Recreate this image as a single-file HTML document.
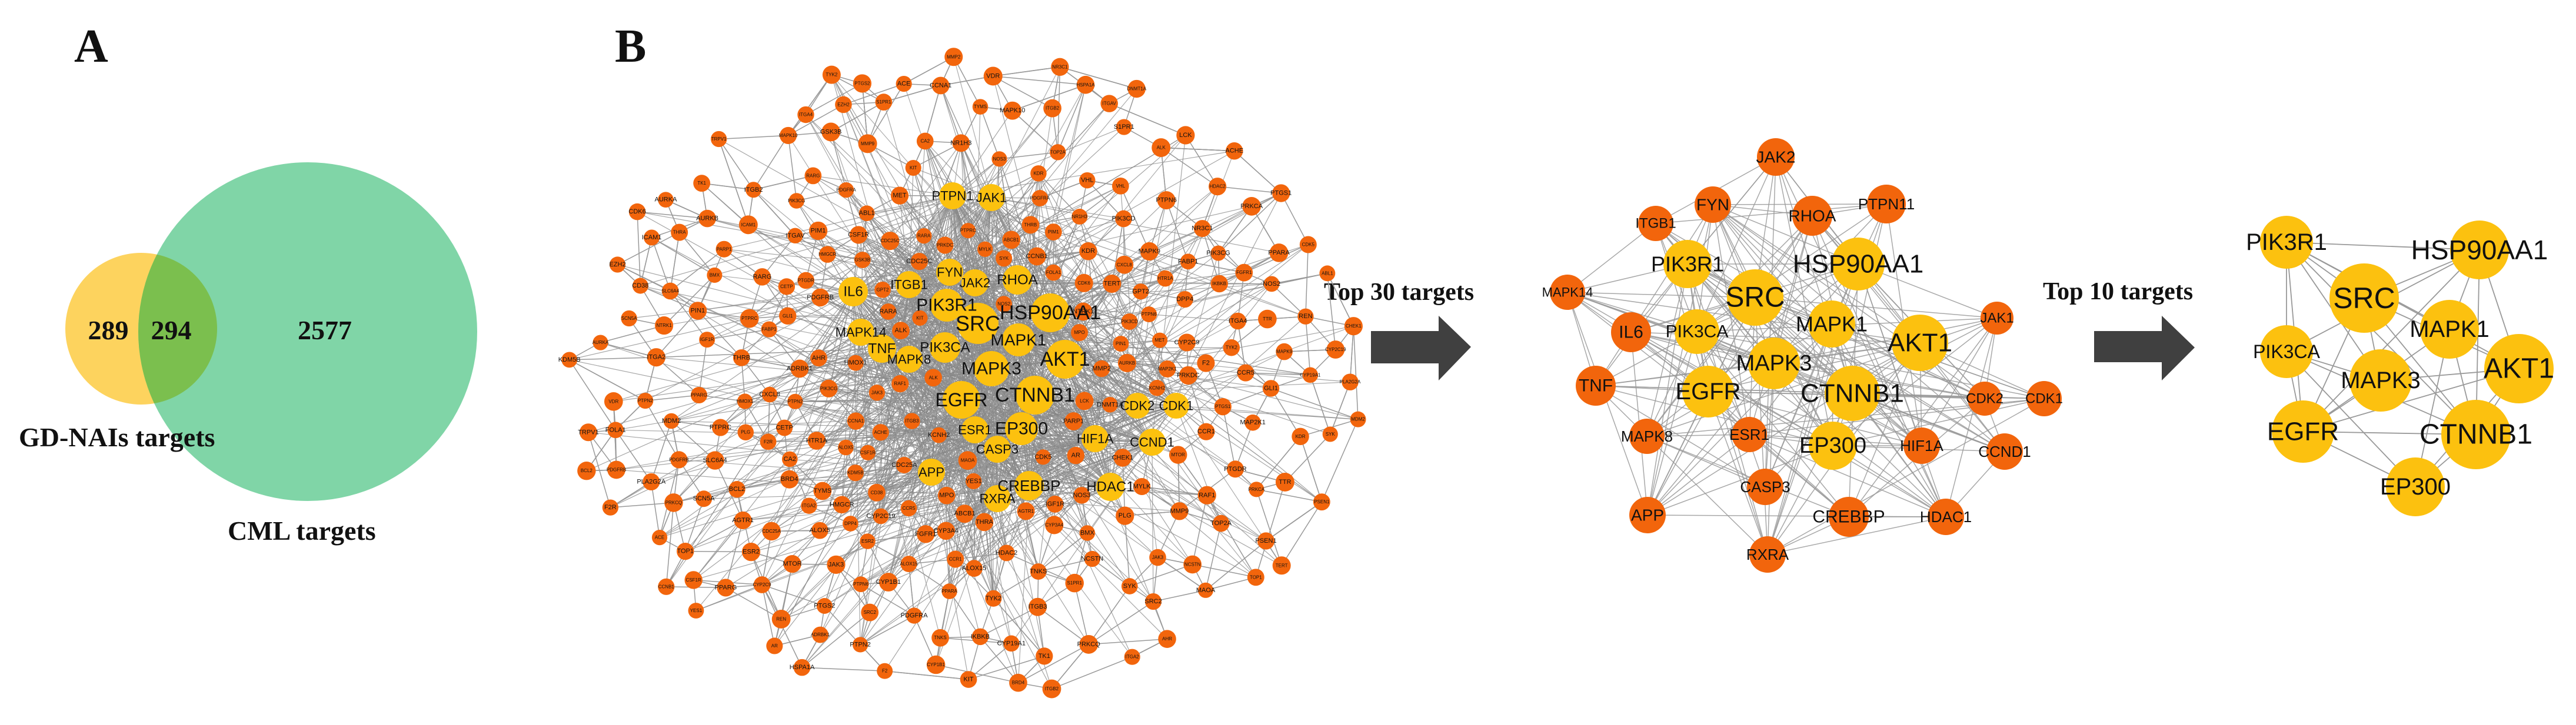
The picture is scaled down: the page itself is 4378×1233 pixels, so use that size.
<!DOCTYPE html>
<html><head><meta charset="utf-8"><style>
html,body{margin:0;padding:0;background:#fff;}
svg{display:block;}
.s{font-family:"Liberation Serif",serif;font-weight:bold;fill:#111;}
.a{font-family:"Liberation Sans",sans-serif;fill:#111;text-anchor:middle;dominant-baseline:central;}
</style></head><body>
<svg id="svg" width="4378" height="1233" viewBox="0 0 4378 1233" xmlns="http://www.w3.org/2000/svg">
<defs><clipPath id="cy"><circle cx="240" cy="559" r="129"/></clipPath></defs>
<rect width="4378" height="1233" fill="#fff"/>
<text class="s" x="126" y="105" font-size="80">A</text>
<circle cx="240" cy="559" r="129" fill="#fdd35e"/>
<circle cx="523" cy="564" r="288" fill="#80d5a7"/>
<circle cx="523" cy="564" r="288" fill="#7bbf4e" clip-path="url(#cy)"/>
<text class="s" x="184" y="577" font-size="46" text-anchor="middle">289</text>
<text class="s" x="291" y="577" font-size="46" text-anchor="middle">294</text>
<text class="s" x="552" y="577" font-size="46" text-anchor="middle">2577</text>
<text class="s" x="32" y="759" font-size="46">GD-NAIs  targets</text>
<text class="s" x="387" y="918" font-size="46">CML  targets</text>
<text class="s" x="1045" y="105" font-size="80">B</text>
<text class="s" x="2250" y="510" font-size="42">Top 30 targets</text>
<polygon points="2330,563 2445,563 2445,537 2500,590 2445,647 2445,618 2330,618" fill="#404040"/>
<text class="s" x="3472" y="509" font-size="42">Top 10 targets</text>
<polygon points="3559,563 3674,563 3674,537 3730,591 3674,647 3674,616 3559,616" fill="#404040"/>
<g id="edges"></g>
<g id="nodes"></g>
<g id="labels"></g>
</svg>
<script>
(function(){
var NS="http://www.w3.org/2000/svg";
var E=document.getElementById('edges'),N=document.getElementById('nodes'),L=document.getElementById('labels');
var seed=12345;function rnd(){seed=(seed*1103515245+12345)%2147483648;return seed/2147483648;}
function line(a,b,w,c,o){var l=document.createElementNS(NS,'line');l.setAttribute('x1',a[0]);l.setAttribute('y1',a[1]);l.setAttribute('x2',b[0]);l.setAttribute('y2',b[1]);l.setAttribute('stroke',c||'#999');l.setAttribute('stroke-width',w||1.5);if(o)l.setAttribute('stroke-opacity',o);E.appendChild(l);}
function circ(x,y,r,f){var c=document.createElementNS(NS,'circle');c.setAttribute('cx',x);c.setAttribute('cy',y);c.setAttribute('r',r);c.setAttribute('fill',f);N.appendChild(c);}
function txt(x,y,s,fs){var t=document.createElementNS(NS,'text');t.setAttribute('x',x);t.setAttribute('y',y);t.setAttribute('class','a');t.setAttribute('font-size',fs);t.textContent=s;L.appendChild(t);}
var OR='#f2650c',YE='#fcc10f';
var core=[["PTPN1",1619,333,23,22],["JAK1",1685,336,23,22],["FYN",1614,463,23,22],["JAK2",1657,481,23,22],["RHOA",1729,476,25,24],["ITGB1",1545,484,23,22],["IL6",1450,496,25,24],["PIK3R1",1609,519,28,30],["SRC",1662,550,35,36],["HSP90AA1",1785,532,33,34],["MAPK14",1463,565,23,22],["TNF",1499,593,24,24],["PIK3CA",1606,591,26,24],["MAPK1",1731,578,28,28],["MAPK8",1545,611,23,22],["AKT1",1810,611,33,34],["MAPK3",1685,627,30,30],["CTNNB1",1759,672,33,34],["EGFR",1634,680,32,32],["CDK2",1933,690,22,22],["CDK1",1999,690,22,22],["ESR1",1657,731,23,22],["EP300",1736,729,28,30],["HIF1A",1861,746,23,22],["CCND1",1958,752,23,22],["CASP3",1695,764,23,22],["APP",1583,803,23,22],["CREBBP",1749,826,25,26],["HDAC1",1887,828,24,24],["RXRA",1695,848,23,22]];
var names=["KDR","SYK","JAK3","PTPRC","ITGB2","ITGA2","CSF1R","PTPN2","ALK","PDGFRB","KIT","PTPN6","PDGFRA","PIK3CG","TYK2","S1PR1","PIK3CD","ITGAV","MET","F2","IGF1R","YES1","ADRBK1","IKBKB","NTRK1","RAF1","MTOR","MAP2K1","CDK6","PRKCA","ITGB3","CXCL8","NOS3","MMP2","PRKCQ","MDM2","BCL2","CDC25C","TERT","ABL1","GSK3B","MMP9","THRB","NOS2","MAPK9","THRA","CHEK1","CCNB1","RARA","HSPA1A","PPARA","CDK5","MAPK10","TOP2A","AURKA","NR3C1","PTGS2","PPARG","RARG","EZH2","PRKDC","PARP1","AR","HDAC2","ACE","REN","MPO","PLG","CCR5","CCR1","DPP4","AGTR1","ITGA4","ICAM1","F2R","ESR2","CD38","VDR","PSEN1","HMOX1","AHR","CYP1B1","CYP19A1","PTGS1","CYP2C19","CYP3A4","ALOX5","ALOX15","CYP2C9","HTR1A","SLC6A4","MAOA","ACHE","PLA2G2A","TTR","CA2","ABCB1","NCSTN","HMGCR","NR1H3","CETP","FABP1","GPT2","KDM5B","PIN1","DNMT1A","AURKB","PIM1","TK1","TYMS","FOLA1","SCN5A","KCNH2","TRPV1","MYLK","BMX","GLI1","SRC2","CDC25A","CCNA1","VHL","TOP1","PTGDR","FGFR1","TNKS","LCK","BRD4"];
var pts=[];
var cx=1640,cy=640,rx=675,ry=545;
var tries=0;
while(pts.length<270&&tries<200000){tries++;var x=cx+(rnd()*2-1)*rx,y=cy+(rnd()*2-1)*ry;var d=((x-cx)/rx)*((x-cx)/rx)+((y-cy)/ry)*((y-cy)/ry);if(d>1)continue;
 if(d>0.6&&rnd()<0.45)continue;
 var md=d<0.35?34:46;
 var ok=true;for(var i=0;i<pts.length;i++){var dx=pts[i][0]-x,dy=pts[i][1]-y;if(dx*dx+dy*dy<md*md){ok=false;break;}}
 if(!ok)continue;
 var cok=true;for(var j=0;j<core.length;j++){var dx2=core[j][1]-x,dy2=core[j][2]-y;if(dx2*dx2+dy2*dy2<(core[j][3]+18)*(core[j][3]+18)){cok=false;break;}}
 if(!cok)continue;
 pts.push([x,y]);}
var all=pts.concat(core.map(function(c){return [c[1],c[2]];}));
for(var k=0;k<3000;k++){var a=core[Math.floor(rnd()*core.length)];var b=all[Math.floor(rnd()*all.length)];
 var dd=Math.hypot((b[0]-cx)*1.3,b[1]-(cy-10));if(dd>400&&rnd()<0.85)continue;line([a[1],a[2]],b,1.2,'#888',0.75);}
for(var i=0;i<pts.length;i++){var p=pts[i];var ds=[];for(var j=0;j<all.length;j++){if(j==i)continue;var q=all[j];ds.push([Math.hypot(q[0]-p[0],q[1]-p[1]),j]);}
 ds.sort(function(u,v){return u[0]-v[0];});var n=2+Math.floor(rnd()*3);
 for(var m=0;m<n;m++){var idx=ds[Math.floor(rnd()*Math.min(8,ds.length))][1];line(p,all[idx],1.5,'#999');}
 if(rnd()<0.5){var c=core[Math.floor(rnd()*core.length)];line(p,[c[1],c[2]],1.2,'#999',0.8);}}
for(var i=0;i<pts.length;i++){circ(pts[i][0],pts[i][1],13+rnd()*3,OR);}
for(var i=0;i<pts.length;i++){var nm=names[i%names.length];txt(pts[i][0],pts[i][1],nm,i<names.length?11:8);}
core.forEach(function(c){circ(c[1],c[2],c[3],YE);});
core.forEach(function(c){txt(c[1],c[2],c[0],c[4]);});
var t30=[["JAK2",3018,267,32,0,28],["FYN",2911,348,31,0,28],["ITGB1",2814,380,30,0,24],["RHOA",3080,367,34,0,28],["PTPN11",3206,347,33,0,26],["PIK3R1",2868,449,41,1,36],["HSP90AA1",3158,449,45,1,44],["SRC",2983,506,48,1,48],["MAPK14",2664,497,30,0,22],["IL6",2772,565,34,0,30],["PIK3CA",2884,564,38,1,30],["MAPK1",3113,551,40,1,36],["AKT1",3263,583,48,1,44],["JAK1",3394,541,28,0,24],["MAPK3",3015,618,44,1,38],["TNF",2712,656,34,0,30],["EGFR",2903,666,44,1,40],["CTNNB1",3148,669,47,1,44],["CDK2",3373,678,29,0,24],["CDK1",3474,678,30,0,24],["MAPK8",2799,742,30,0,26],["ESR1",2973,739,30,0,26],["EP300",3115,758,41,1,38],["HIF1A",3266,758,31,0,26],["CCND1",3407,768,31,0,26],["CASP3",3000,828,31,0,26],["APP",2800,876,31,0,28],["CREBBP",3142,879,34,0,30],["HDAC1",3307,879,31,0,26],["RXRA",3004,943,31,0,26]];
for(var i=0;i<t30.length;i++)for(var j=i+1;j<t30.length;j++){var pr=(t30[i][4]||t30[j][4])?0.6:0.3;if(rnd()<pr)line([t30[i][1],t30[i][2]],[t30[j][1],t30[j][2]],1.5,'#999',0.85);}
t30.forEach(function(c){circ(c[1],c[2],c[3],c[4]?YE:OR);});
t30.forEach(function(c){txt(c[1],c[2],c[0],c[5]);});
var t10=[["PIK3R1",3886,412,45,40],["HSP90AA1",4214,425,50,46],["SRC",4018,507,59,50],["MAPK1",4163,560,50,40],["PIK3CA",3886,598,45,32],["AKT1",4281,627,59,48],["MAPK3",4046,647,53,40],["EGFR",3914,734,53,44],["CTNNB1",4208,739,59,48],["EP300",4105,828,50,40]];
for(var i=0;i<t10.length;i++)for(var j=i+1;j<t10.length;j++){if(rnd()<0.72)line([t10[i][1],t10[i][2]],[t10[j][1],t10[j][2]],1.8,'#999');}
t10.forEach(function(c){circ(c[1],c[2],c[3],YE);});
t10.forEach(function(c){txt(c[1],c[2],c[0],c[4]);});
})();
</script>
</body></html>
